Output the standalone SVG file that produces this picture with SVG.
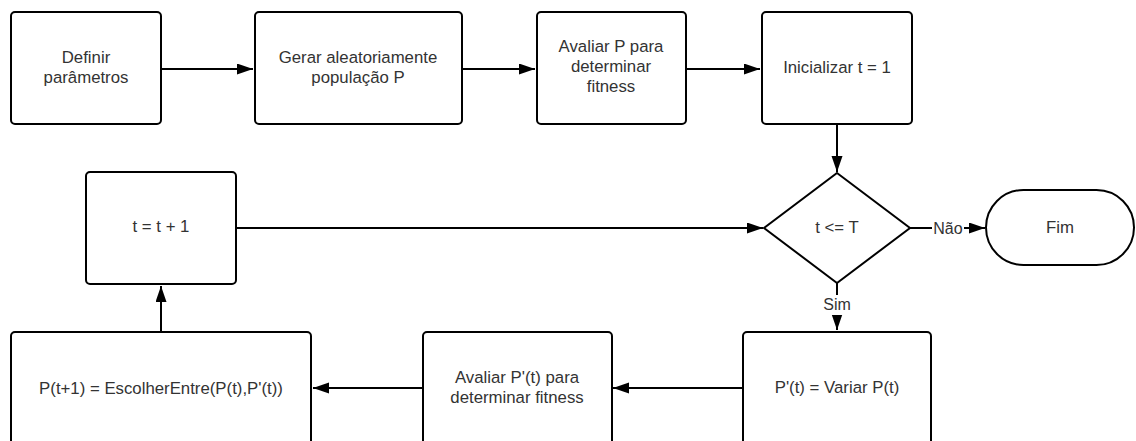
<svg xmlns="http://www.w3.org/2000/svg" width="1136" height="441" viewBox="0 0 1136 441">
  <style>
    .box { fill: #ffffff; stroke: #000000; stroke-width: 2; }
    .lbl { font-family: "Liberation Sans", Arial, sans-serif; font-size: 16.8px; fill: #333333; text-anchor: middle; dominant-baseline: central; }
    .edge { fill: none; stroke: #000000; stroke-width: 2; marker-end: url(#arrow); }
    .tag { font-family: "Liberation Sans", Arial, sans-serif; font-size: 16px; fill: #333333; text-anchor: middle; dominant-baseline: central; }
  </style>
  <defs>
    <marker id="arrow" markerUnits="userSpaceOnUse" markerWidth="18" markerHeight="14" refX="16" refY="5.5" orient="auto">
      <path d="M0,0 L16,5.5 L0,11 z" fill="#000000"/>
    </marker>
  </defs>
  <rect width="1136" height="441" fill="#ffffff"/>

  <!-- connectors -->
  <g id="connectors">
    <line class="edge" x1="161" y1="69" x2="253" y2="69"/>
    <line class="edge" x1="462" y1="69" x2="535" y2="69"/>
    <line class="edge" x1="686" y1="69" x2="760" y2="69"/>
    <line class="edge" x1="837" y1="124" x2="837" y2="172"/>
    <line class="edge" x1="236" y1="228" x2="763" y2="228"/>
    <line class="edge" x1="910" y1="228" x2="985" y2="228"/>
    <rect x="932" y="218" width="32" height="20" fill="#ffffff"/>
    <text class="tag" x="948" y="228">Não</text>
    <line class="edge" x1="837" y1="283" x2="837" y2="330"/>
    <rect x="821" y="295" width="32" height="20" fill="#ffffff"/>
    <text class="tag" x="837" y="304">Sim</text>
    <line class="edge" x1="743" y1="388" x2="613" y2="388"/>
    <line class="edge" x1="423" y1="388" x2="313" y2="388"/>
    <line class="edge" x1="161" y1="332" x2="161" y2="286"/>
  </g>

  <g id="definir">
    <rect class="box" x="11" y="12" width="150" height="112" rx="4"/>
    <text class="lbl" x="86" y="57">Definir</text>
    <text class="lbl" x="86" y="77">parâmetros</text>
  </g>
  <g id="gerar">
    <rect class="box" x="255" y="12" width="207" height="112" rx="4"/>
    <text class="lbl" x="358" y="57">Gerar aleatoriamente</text>
    <text class="lbl" x="358" y="77">população P</text>
  </g>
  <g id="avaliar">
    <rect class="box" x="537" y="12" width="149" height="112" rx="4"/>
    <text class="lbl" x="611" y="46">Avaliar P para</text>
    <text class="lbl" x="611" y="66">determinar</text>
    <text class="lbl" x="611" y="86">fitness</text>
  </g>
  <g id="inicializar">
    <rect class="box" x="762" y="12" width="150" height="112" rx="4"/>
    <text class="lbl" x="837" y="67">Inicializar t = 1</text>
  </g>
  <g id="condicao">
    <polygon class="box" points="837,173 910,228 837,283 764,228"/>
    <text class="lbl" x="837" y="227">t &lt;= T</text>
  </g>
  <g id="fim">
    <rect class="box" x="986" y="190" width="148" height="75" rx="37.5"/>
    <text class="lbl" x="1060" y="227">Fim</text>
  </g>
  <g id="incremento">
    <rect class="box" x="86" y="172" width="150" height="112" rx="4"/>
    <text class="lbl" x="161" y="226">t = t + 1</text>
  </g>
  <g id="escolher">
    <rect class="box" x="11" y="332" width="300" height="130" rx="4"/>
    <text class="lbl" x="161" y="388">P(t+1) = EscolherEntre(P(t),P'(t))</text>
  </g>
  <g id="avaliar-variacao">
    <rect class="box" x="423" y="332" width="189" height="130" rx="4"/>
    <text class="lbl" x="517" y="377">Avaliar P'(t) para</text>
    <text class="lbl" x="517" y="397">determinar fitness</text>
  </g>
  <g id="variar">
    <rect class="box" x="743" y="332" width="188" height="130" rx="4"/>
    <text class="lbl" x="837" y="387">P'(t) = Variar P(t)</text>
  </g>
</svg>
